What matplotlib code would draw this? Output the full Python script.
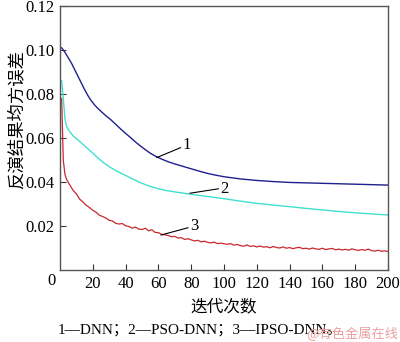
import numpy as np
import matplotlib
matplotlib.use('Agg')
import matplotlib.pyplot as plt

plt.rcParams['font.family'] = ['Liberation Serif', 'Noto Sans CJK SC']

# curve 1: DNN
x1 = [1, 3, 5, 7, 9, 11, 13, 15, 17, 19, 21, 23, 25, 28, 31, 34, 37, 40, 43,
      46, 49, 52, 55, 58, 62, 66, 70, 75, 80, 85, 90, 95, 100, 110, 120, 130,
      140, 150, 160, 170, 180, 190, 200]
y1 = [0.1010, 0.0990, 0.0965, 0.0940, 0.0910, 0.0880, 0.0850, 0.0820, 0.0793,
      0.0770, 0.0751, 0.0735, 0.0721, 0.0701, 0.0683, 0.0662, 0.0641, 0.0621,
      0.0602, 0.0582, 0.0564, 0.0547, 0.0531, 0.0518, 0.0504, 0.0492, 0.0482,
      0.0471, 0.0460, 0.0449, 0.0439, 0.0431, 0.0424, 0.0414, 0.0407, 0.0402,
      0.0398, 0.0396, 0.0394, 0.0392, 0.0390, 0.0388, 0.0386]

# curve 2: PSO-DNN
x2 = [1, 2, 3, 4, 6, 8, 11, 15, 19, 23, 27, 31, 35, 40, 45, 50, 55, 60, 65,
      70, 80, 90, 100, 110, 120, 130, 140, 150, 160, 170, 180, 190, 200]
y2 = [0.0860, 0.0780, 0.0690, 0.0652, 0.0628, 0.0610, 0.0591, 0.0564, 0.0538,
      0.0510, 0.0485, 0.0465, 0.0448, 0.0430, 0.0411, 0.0394, 0.0380, 0.0369,
      0.0361, 0.0355, 0.0344, 0.0334, 0.0324, 0.0313, 0.0303, 0.0295, 0.0288,
      0.0280, 0.0273, 0.0266, 0.0260, 0.0255, 0.0250]

# curve 3: IPSO-DNN (noisy)
x3 = [1, 2, 3] + list(range(4, 201, 2))
y3 = [0.0780, 0.0500, 0.0435,
      0.0412, 0.0386, 0.0362, 0.0346, 0.0322, 0.0309, 0.0294, 0.0284, 0.0271,
      0.0263, 0.0249, 0.0243, 0.0236, 0.0226, 0.0223, 0.0212, 0.0209, 0.0211, 0.0201,
      0.0198, 0.0190, 0.0195, 0.0186, 0.0184, 0.0190, 0.0178, 0.0183, 0.0171, 0.0170,
      0.0162, 0.0160, 0.0157, 0.0151, 0.0153, 0.0145, 0.0147, 0.0139, 0.0142, 0.0137,
      0.0132, 0.0135, 0.0128, 0.0131, 0.0126, 0.0123, 0.0127, 0.0120, 0.0122, 0.0119,
      0.0117, 0.0120, 0.0113, 0.0116, 0.0111, 0.0108, 0.0114, 0.0107, 0.0110, 0.0105,
      0.0109, 0.0104, 0.0106, 0.0101, 0.0107, 0.0102, 0.0100, 0.0105, 0.0099, 0.0102,
      0.0097, 0.0101, 0.0103, 0.0097, 0.0099, 0.0095, 0.0100, 0.0096, 0.0094, 0.0099,
      0.0093, 0.0096, 0.0098, 0.0092, 0.0095, 0.0091, 0.0094, 0.0090, 0.0096, 0.0092,
      0.0089, 0.0093, 0.0090, 0.0095, 0.0088, 0.0086, 0.0090, 0.0085, 0.0087, 0.0084]

xticks = [20, 40, 60, 80, 100, 120, 140, 160, 180, 200]
yticks = [0.02, 0.04, 0.06, 0.08, 0.10, 0.12]

fig = plt.figure(figsize=(4, 3.42), dpi=100)
ax = fig.add_axes([0.15, 0.2105, 0.82, 0.772])

ax.plot(x1, y1, color='#1f1f8f', lw=1.0)
ax.plot(x2, y2, color='#40e0d0', lw=1.0)
ax.plot(x3, y3, color='#c8282d', lw=0.9)

# curve labels with pointer lines
ax.plot([59, 73.5], [0.0511, 0.0556], color='black', lw=0.8)
ax.text(74.5, 0.0568, '1', fontsize=12, va='center', ha='left')
ax.plot([79.3, 96.5], [0.0349, 0.0369], color='black', lw=0.8)
ax.text(97.5, 0.0370, '2', fontsize=12, va='center', ha='left')
ax.plot([61.6, 78.0], [0.0159, 0.0192], color='black', lw=0.8)
ax.text(79.5, 0.0199, '3', fontsize=12, va='center', ha='left')

ax.set_xlim(0, 200)
ax.set_ylim(0, 0.12)
ax.set_xticks(xticks)
ax.set_yticks(yticks)
ax.set_xticklabels([str(v) for v in xticks], fontsize=12)
ax.set_yticklabels(['%.2f' % v for v in yticks], fontsize=12)
ax.tick_params(direction='in', length=4, width=0.8, top=False, right=False,
               colors='#333333', labelcolor='black', pad=4)
for s in ax.spines.values():
    s.set_color('#555555')
    s.set_linewidth(1.0)

ax.text(-0.012, -0.012, '0', transform=ax.transAxes, fontsize=12,
        ha='right', va='top')

ax.set_ylabel('反演结果均方误差', family=['Noto Sans CJK SC'], fontsize=12.5)
ax.yaxis.set_label_coords(-0.105, 0.57)
ax.set_xlabel('迭代次数', family=['Noto Sans CJK SC'], fontsize=12,
              labelpad=5)

fig.text(0.5, 1 - 330 / 342, '1—DNN；2—PSO-DNN；3—IPSO-DNN。', ha='center',
         va='center', fontsize=11, family=['Liberation Serif', 'Noto Sans CJK SC'])
fig.text(0.995, 1 - 334 / 342, '@有色金属在线', ha='right', va='center',
         fontsize=9.5, color='#eaa0a0', family=['Noto Sans CJK SC', 'DejaVu Sans'])

fig.savefig('out.png', dpi=100)
